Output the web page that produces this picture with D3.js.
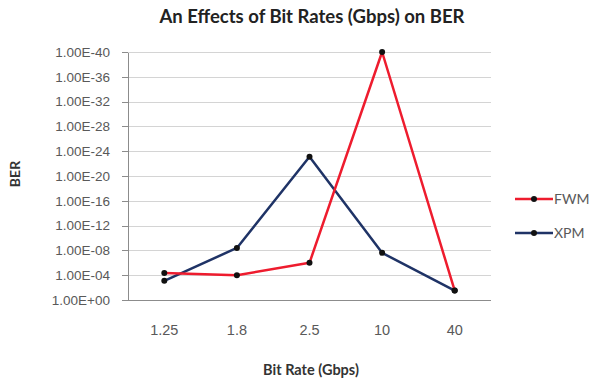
<!DOCTYPE html>
<html>
<head>
<script src="https://cdnjs.cloudflare.com/ajax/libs/d3/7.8.5/d3.min.js"></script>
<style>
body { margin: 0; background: #fff; }
svg { display: block; font-family: Lato, "Open Sans", sans-serif; }
.grid line { stroke: #d4d4d4; stroke-width: 1; shape-rendering: crispEdges; }
.axis path, .axis line { stroke: #8c8c8c; shape-rendering: crispEdges; }
.axis text { fill: #595959; }
</style>
</head>
<body>
<div id="chart"></div>
<script>
// chart values (BER per bit rate)
var categories = ["1.25", "1.8", "2.5", "10", "40"];
var fwm = [4.5e-5, 1e-4, 1e-6, 1e-40, 3e-2];
var xpm = [8e-4, 4e-9, 8e-24, 2.5e-8, 3e-2];
var yTicks = [1e0, 1e-4, 1e-8, 1e-12, 1e-16, 1e-20, 1e-24, 1e-28, 1e-32, 1e-36, 1e-40];

var width = 594, height = 386;
var plotL = 128, plotR = 491, plotT = 52, plotB = 300;

var svg = d3.select("#chart").append("svg")
    .attr("width", width)
    .attr("height", height);

var x = d3.scaleBand().domain(categories).range([plotL, plotR]);
var y = d3.scaleLog().domain([1, 1e-40]).range([plotB, plotT]);

function fmt(d) {
  var e = Math.round(-Math.log10(d));
  var s = e === 0 ? "+" : "-";
  return "1.00E" + s + (e < 10 ? "0" + e : e);
}

// gridlines
svg.append("g")
    .attr("class", "grid")
    .selectAll("line")
    .data(yTicks.slice(1))
    .enter().append("line")
    .attr("x1", plotL).attr("x2", plotR)
    .attr("y1", function(d) { return Math.round(y(d)) + 0.5; })
    .attr("y2", function(d) { return Math.round(y(d)) + 0.5; });

// y axis
var yAxis = svg.append("g")
    .attr("class", "axis")
    .attr("transform", "translate(" + plotL + ",0)")
    .call(d3.axisLeft(y).tickValues(yTicks).tickFormat(fmt).tickSize(6).tickSizeOuter(0).tickPadding(12));
yAxis.selectAll("text").attr("font-size", "13.5px");

// x axis
var xAxis = svg.append("g")
    .attr("class", "axis")
    .attr("transform", "translate(0," + plotB + ")")
    .call(d3.axisBottom(x).tickSize(0).tickPadding(25));
xAxis.select(".domain").attr("d", "M" + plotL + ",0.5H" + plotR);
xAxis.selectAll("text").attr("font-size", "14.5px");

var line = d3.line()
    .x(function(d, i) { return x(categories[i]) + x.bandwidth() / 2; })
    .y(function(d) { return y(d); });

var series = [
  {name: "FWM", values: fwm, color: "#ee1c2e"},
  {name: "XPM", values: xpm, color: "#1f3366"}
];

// draw XPM first so FWM sits on top like the original
series.slice().reverse().forEach(function(s) {
  svg.append("path")
      .datum(s.values)
      .attr("fill", "none")
      .attr("stroke", s.color)
      .attr("stroke-width", 2.5)
      .attr("stroke-linejoin", "round")
      .attr("d", line);
  svg.append("g").selectAll("circle")
      .data(s.values)
      .enter().append("circle")
      .attr("cx", function(d, i) { return x(categories[i]) + x.bandwidth() / 2; })
      .attr("cy", function(d) { return y(d); })
      .attr("r", 3)
      .attr("fill", "#111");
});

// title and axis titles
svg.append("text")
    .attr("x", 312).attr("y", 23)
    .attr("text-anchor", "middle")
    .attr("font-size", "18.5px")
    .attr("font-weight", "bold")
    .attr("fill", "#222")
    .text("An Effects of Bit Rates (Gbps) on BER");

svg.append("text")
    .attr("transform", "translate(20,174) rotate(-90)")
    .attr("text-anchor", "middle")
    .attr("font-size", "14px")
    .attr("font-weight", "bold")
    .attr("fill", "#333")
    .text("BER");

svg.append("text")
    .attr("x", 311).attr("y", 375)
    .attr("text-anchor", "middle")
    .attr("font-size", "14.5px")
    .attr("font-weight", "bold")
    .attr("fill", "#333")
    .text("Bit Rate (Gbps)");

// legend
var legend = svg.append("g");
series.forEach(function(s, i) {
  var ly = 199 + i * 34;
  legend.append("line")
      .attr("x1", 515).attr("x2", 553)
      .attr("y1", ly).attr("y2", ly)
      .attr("stroke", s.color)
      .attr("stroke-width", 2.5);
  legend.append("circle")
      .attr("cx", 534).attr("cy", ly).attr("r", 3)
      .attr("fill", "#111");
  legend.append("text")
      .attr("x", 554).attr("y", ly)
      .attr("dy", "0.35em")
      .attr("font-size", "14px")
      .attr("fill", "#595959")
      .text(s.name);
});
</script>
</body>
</html>
